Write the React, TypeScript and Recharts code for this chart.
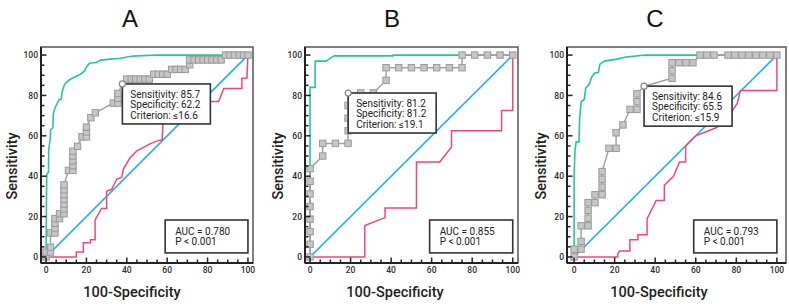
import React from 'react';
import { LineChart, Line, XAxis, YAxis, ReferenceArea, ReferenceDot, Label } from 'recharts';

// ---------- text ----------
const panelTitles = ['A', 'B', 'C'];
const xAxisTitle = '100-Specificity';
const yAxisTitle = 'Sensitivity';
const majorTicks = [0, 20, 40, 60, 80, 100];
const allTicks = [0, 5, 10, 15, 20, 25, 30, 35, 40, 45, 50, 55, 60, 65, 70, 75, 80, 85, 90, 95, 100];

// ---------- criterion / AUC annotations ----------
const critSensitivity = [85.7, 81.2, 84.6];
const critSpecificity = [62.2, 81.2, 65.5];
const critCriterion = ['≤16.6', '≤19.1', '≤15.9'];
const aucValues = ['0.780', '0.855', '0.793'];
const pValues = ['< 0.001', '< 0.001', '< 0.001'];

// ---------- series (x = 100-Specificity, y = Sensitivity) ----------
const diagonal = [[0, 0], [100, 100]];

const tealA = [[0, 0], [0.3, 38], [0.4, 41], [1.2, 42], [1.3, 53], [2, 58], [2.3, 63], [3.4, 64], [3.6, 71], [4.5, 74], [5.5, 76], [6.5, 78], [7.5, 78], [8, 82], [9, 85], [10, 86.5], [12, 88], [15, 89.5], [17, 90.5], [19, 92], [20, 94], [21.5, 96], [25, 96.3], [27, 97.5], [32, 98], [36, 98.3], [43, 99.5], [55, 100], [100, 100]];
const grayA = [[0, 0], [0, 2.4], [2.2, 2.4], [2.2, 4.8], [2.2, 11.9], [4.4, 11.9], [4.4, 14.3], [4.4, 16.7], [4.4, 19], [6.7, 19], [6.7, 21.4], [8.9, 21.4], [8.9, 23.8], [8.9, 26.2], [8.9, 28.6], [8.9, 31], [8.9, 33.3], [8.9, 35.7], [11.1, 42.9], [13.3, 42.9], [13.3, 45.2], [13.3, 47.6], [13.3, 50], [13.3, 52.4], [15.6, 54.8], [17.8, 59.5], [20, 59.5], [20, 61.9], [20, 64.3], [22.2, 69], [24.4, 71.4], [33.3, 76.2], [35.6, 76.2], [35.6, 78.6], [35.6, 81], [37.8, 85.7], [40, 88.1], [42.2, 88.1], [44.4, 88.1], [46.7, 88.1], [48.9, 88.1], [51.1, 88.1], [53.3, 90.5], [55.6, 90.5], [57.8, 90.5], [60, 90.5], [62.2, 92.9], [64.4, 92.9], [66.7, 92.9], [68.9, 92.9], [71.1, 95.2], [71.1, 97.6], [73.3, 97.6], [75.6, 97.6], [77.8, 97.6], [80, 97.6], [82.2, 97.6], [84.4, 97.6], [86.7, 97.6], [88.9, 100], [91.1, 100], [93.3, 100], [95.6, 100], [97.8, 100], [100, 100]];
const pinkA = [[0, 0], [15, 0], [15, 2.5], [18.5, 2.5], [18.5, 7], [22, 7], [22, 8.5], [24.3, 8.5], [24.3, 18.3], [27.5, 24], [30, 24], [30, 32.5], [32.5, 33.5], [35, 38.5], [37.5, 39.5], [38.3, 43.5], [41.5, 49], [45, 52.5], [51.5, 56], [55, 57.5], [57.5, 58], [58, 67.5], [62, 68.5], [70, 72], [78, 76], [80, 77], [85.5, 77], [88, 83.5], [97, 83.5], [97, 88.5], [99.5, 88.5], [100, 100]];

const tealB = [[0, 0], [0, 84], [2.5, 84], [2.5, 97], [8, 97], [10, 98.5], [12, 99.6], [41, 99.6], [41, 100], [100, 100]];
const grayB = [[0, 0], [0, 6.25], [0, 12.5], [0, 18.75], [0, 25], [0, 31.25], [0, 37.5], [0, 43.75], [6.25, 50], [6.25, 56.25], [12.5, 56.25], [18.75, 56.25], [18.75, 62.5], [18.75, 68.75], [18.75, 75], [18.75, 81.25], [25, 81.25], [31.25, 81.25], [37.5, 87.5], [37.5, 93.75], [43.75, 93.75], [50, 93.75], [56.25, 93.75], [62.5, 93.75], [68.75, 93.75], [75, 93.75], [75, 100], [81.25, 100], [87.5, 100], [93.75, 100], [100, 100]];
const pinkB = [[0, 0], [27, 0], [27, 15.6], [37, 19.5], [37, 24.3], [52.5, 24.3], [52.5, 47], [64, 47], [69.8, 54.5], [69.8, 62.5], [94.5, 62.5], [94.5, 72.5], [100, 72.5], [100, 100]];

const tealC = [[0, 0], [0, 40], [0.4, 52], [1, 57], [2.4, 57], [2.7, 68], [3.5, 77], [5, 78], [5.7, 83.5], [7.7, 86], [8.6, 89], [10, 91], [12, 91.5], [12.7, 95.5], [15, 97], [21, 98], [25.5, 99], [35, 100], [100, 100]];
const grayC = [[0, 0], [0, 3.85], [3.45, 3.85], [3.45, 7.7], [3.45, 15.4], [6.9, 15.4], [6.9, 19.2], [6.9, 23.1], [6.9, 26.9], [10.3, 26.9], [10.3, 30.8], [13.8, 30.8], [13.8, 34.6], [13.8, 38.5], [13.8, 42.3], [17.2, 53.8], [20.7, 53.8], [20.7, 61.5], [24.1, 65.4], [27.6, 73.1], [31, 73.1], [31, 76.9], [31, 80.8], [34.5, 84.6], [48.3, 88.5], [48.3, 92.3], [48.3, 96.2], [51.7, 96.2], [55.2, 96.2], [58.6, 96.2], [62.1, 100], [65.5, 100], [69, 100], [75.9, 100], [79.3, 100], [82.8, 100], [86.2, 100], [89.7, 100], [93.1, 100], [96.6, 100], [100, 100]];
const pinkC = [[0, 0], [21.5, 0], [21.5, 1.5], [22.5, 3], [27.5, 3], [27.5, 8.5], [31.5, 8.5], [31.5, 11], [36, 11], [36, 19], [40.5, 28], [44.5, 28], [44.5, 35.5], [49, 40], [52, 47], [55, 47], [55, 55], [60, 60], [65, 62], [70, 64], [75, 67], [79, 74], [80.5, 76], [82, 82.4], [100, 82.4], [100, 100]];

const toPts = (arr: number[][]) => arr.map(([x, y]) => ({ x, y }));
const seriesByPanel = [
  { teal: toPts(tealA), gray: toPts(grayA), pink: toPts(pinkA) },
  { teal: toPts(tealB), gray: toPts(grayB), pink: toPts(pinkB) },
  { teal: toPts(tealC), gray: toPts(grayC), pink: toPts(pinkC) },
];
const diagPts = toPts(diagonal);

// ---------- layout ----------
const panelLayout = [
  { left: 0, width: 260, frameLeft: 41, marginRight: 7, xDomain: [-2.5, 102.5], yLabelX: 12.5, xLabelX: 132, titleX: 130 },
  { left: 262, width: 262, frameLeft: 43, marginRight: 6, xDomain: [-2.5, 102.6], yLabelX: 16.5, xLabelX: 133, titleX: 130 },
  { left: 527, width: 262, frameLeft: 40, marginRight: 3, xDomain: [-3.5, 104.5], yLabelX: 14.5, xLabelX: 132, titleX: 128 },
];
const yDomain = [-3, 104];
const H = 306;
const TOP = 47;
const XAXIS_H = 43;

const TEAL = '#22c6a3';
const BLUE = '#1db3e6';
const PINK = '#f2467b';
const GRAY_LINE = '#a2a2a2';
const TEXT = '#222';
const FONT = 'Roboto, "Noto Sans", sans-serif';

const XTick = (props: any) => {
  const { x, y, payload } = props;
  const v = payload.value;
  const major = majorTicks.includes(v);
  return (
    <g>
      <line x1={x} x2={x} y1={y} y2={y - (major ? 5.5 : 3.5)} stroke="#222" strokeWidth={1.5} />
      {major && (
        <text x={x} y={y + 10.3} textAnchor="middle" fontSize={8.5} fontWeight={500} fill="#2a2a2a" fontFamily={FONT}>
          {v}
        </text>
      )}
    </g>
  );
};

const YTick = (props: any) => {
  const { x, y, payload } = props;
  const v = payload.value;
  const major = majorTicks.includes(v);
  return (
    <g>
      <line x1={x} x2={x + (major ? 5.5 : 3.5)} y1={y} y2={y} stroke="#222" strokeWidth={1.5} />
      {major && (
        <text x={x - 3} y={y + 3.1} textAnchor="end" fontSize={8.5} fontWeight={500} fill="#2a2a2a" fontFamily={FONT}>
          {v}
        </text>
      )}
    </g>
  );
};

const makeSquareDot = (critX: number, critY: number) => (props: any) => {
  const { cx, cy, index, payload } = props;
  if (cx == null || cy == null) return <g key={`d${index}`} />;
  if (Math.abs(payload.x - critX) < 0.2 && Math.abs(payload.y - critY) < 0.2) return <g key={`d${index}`} />;
  return (
    <rect key={`d${index}`} x={cx - 3.2} y={cy - 3.2} width={6.4} height={6.4} fill="#c6c6c6" stroke="#999" strokeWidth={1} />
  );
};

const makeCritShape = (i: number) => (props: any) => {
  const { cx, cy } = props;
  const tx = cx + 8;
  return (
    <g>
      <rect x={cx} y={cy} width={88} height={40} fill="#fff" stroke="#333" strokeWidth={1.6} />
      <text x={tx} y={cy + 13.6} fontSize={10} fill={TEXT} fontFamily={FONT}>{`Sensitivity: ${critSensitivity[i].toFixed(1)}`}</text>
      <text x={tx} y={cy + 24.1} fontSize={10} fill={TEXT} fontFamily={FONT}>{`Specificity: ${critSpecificity[i].toFixed(1)}`}</text>
      <text x={tx} y={cy + 34.6} fontSize={10} fill={TEXT} fontFamily={FONT}>{`Criterion: ${critCriterion[i]}`}</text>
      <circle cx={cx} cy={cy} r={3} fill="#fff" stroke="#888" strokeWidth={1.2} />
    </g>
  );
};

const makeAucShape = (i: number) => (props: any) => {
  const { x, y, width, height } = props;
  return (
    <g>
      <rect x={x} y={y} width={width} height={height} fill="#fff" stroke="#333" strokeWidth={1.6} />
      <text x={x + 10} y={y + 14.6} fontSize={10} fill={TEXT} fontFamily={FONT}>{`AUC = ${aucValues[i]}`}</text>
      <text x={x + 10} y={y + 25} fontSize={10} fill={TEXT} fontFamily={FONT}>{`P ${pValues[i]}`}</text>
    </g>
  );
};

const Panel = ({ i }: { i: number }) => {
  const L = panelLayout[i];
  const s = seriesByPanel[i];
  const critX = 100 - critSpecificity[i];
  const critY = critSensitivity[i];
  return (
    <div style={{ position: 'absolute', left: L.left, top: 0, width: L.width, height: H }}>
      <div
        style={{
          position: 'absolute', left: L.titleX - 20, top: 7, width: 40, textAlign: 'center',
          fontFamily: '"Liberation Sans", Arial, sans-serif', fontSize: 24, lineHeight: '24px', color: '#111',
        }}
      >
        {panelTitles[i]}
      </div>
      <LineChart width={L.width} height={H} margin={{ top: TOP, right: L.marginRight, bottom: 0, left: 0 }}>
        <XAxis
          type="number" dataKey="x" domain={L.xDomain} ticks={allTicks} interval={0} allowDataOverflow
          tickSize={0} tickMargin={0} tickLine={false} height={XAXIS_H}
          axisLine={{ stroke: '#222', strokeWidth: 2 }} tick={(p: any) => <XTick {...p} />}
        >
          <Label
            content={() => (
              <text x={L.xLabelX} y={297} textAnchor="middle" fontSize={14.5} fontWeight={500} fill={TEXT} fontFamily={FONT}>
                {xAxisTitle}
              </text>
            )}
          />
        </XAxis>
        <YAxis
          type="number" domain={yDomain} ticks={allTicks} interval={0} allowDataOverflow
          tickSize={0} tickMargin={0} tickLine={false} width={L.frameLeft}
          axisLine={{ stroke: '#222', strokeWidth: 2 }} tick={(p: any) => <YTick {...p} />}
        >
          <Label
            content={() => (
              <text
                x={L.yLabelX} y={166} textAnchor="middle" dominantBaseline="central"
                transform={`rotate(-90, ${L.yLabelX}, 166)`}
                fontSize={14.5} fontWeight={500} fill={TEXT} fontFamily={FONT}
              >
                {yAxisTitle}
              </text>
            )}
          />
        </YAxis>
        <ReferenceArea
          x1={L.xDomain[0]} x2={L.xDomain[1]} y1={yDomain[0]} y2={yDomain[1]}
          fill="none" fillOpacity={0} stroke="#555" strokeWidth={1.5} strokeOpacity={1} ifOverflow="visible"
        />
        <Line data={diagPts} dataKey="y" type="linear" stroke={BLUE} strokeWidth={1.6} dot={false} activeDot={false} isAnimationActive={false} />
        <Line data={s.pink} dataKey="y" type="linear" stroke={PINK} strokeWidth={1.5} dot={false} activeDot={false} isAnimationActive={false} />
        <Line data={s.teal} dataKey="y" type="linear" stroke={TEAL} strokeWidth={1.6} dot={false} activeDot={false} isAnimationActive={false} />
        <Line
          data={s.gray} dataKey="y" type="linear" stroke={GRAY_LINE} strokeWidth={1.5}
          dot={makeSquareDot(critX, critY)} activeDot={false} isAnimationActive={false}
        />
        <ReferenceArea x1={59} x2={100} y1={2} y2={18.3} ifOverflow="visible" shape={makeAucShape(i)} />
        <ReferenceDot x={critX} y={critY} r={3} ifOverflow="visible" shape={makeCritShape(i)} zIndex={1500} />
      </LineChart>
    </div>
  );
};

export default function App() {
  return (
    <div style={{ position: 'absolute', left: 0, top: 0, width: 789, height: H, background: '#fff', overflow: 'hidden' }}>
      {[0, 1, 2].map((i) => (
        <Panel key={i} i={i} />
      ))}
    </div>
  );
}
